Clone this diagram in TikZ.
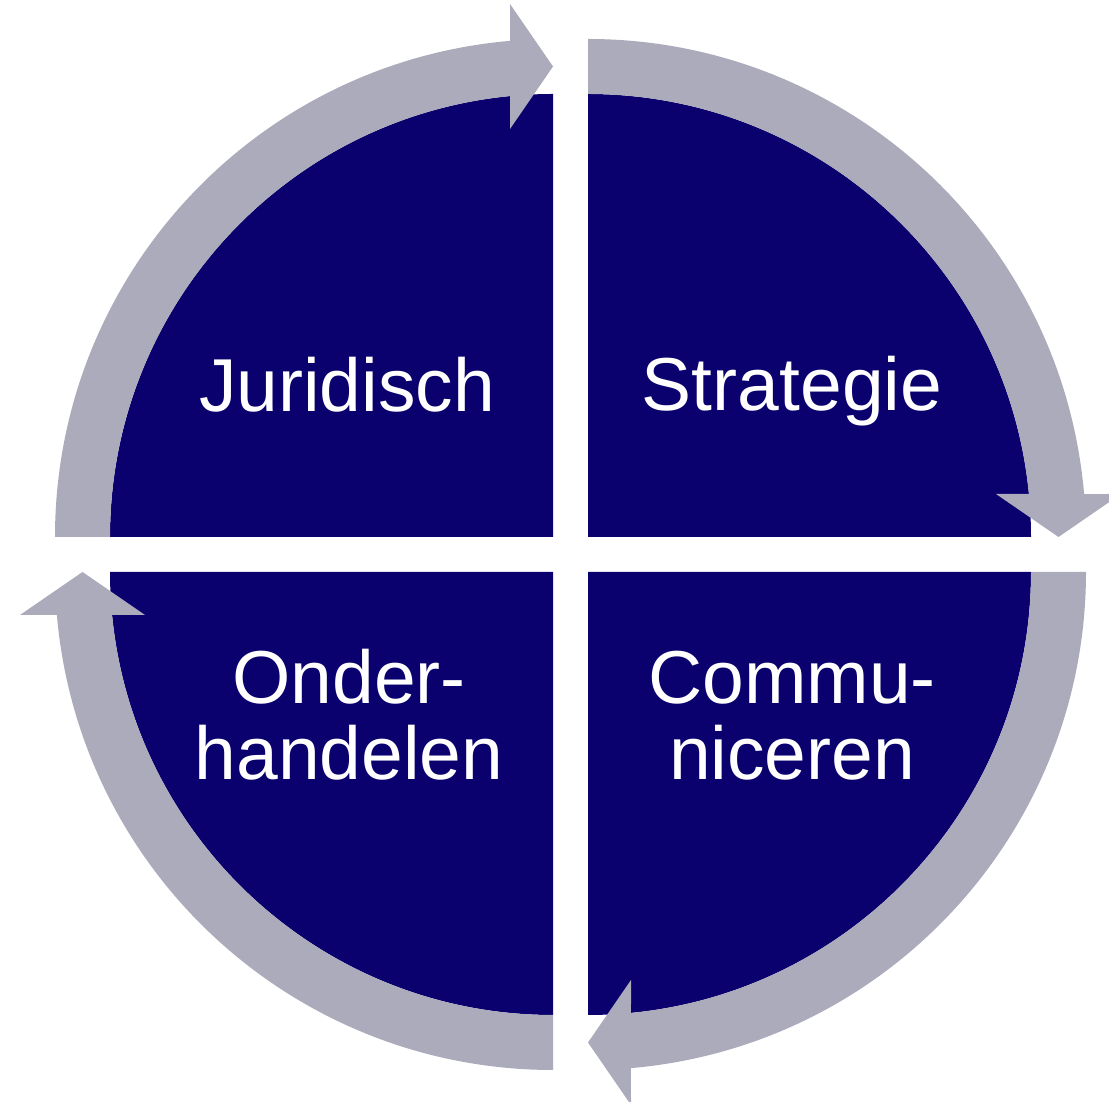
\documentclass[tikz,border=0pt]{standalone}
\usepackage{fontspec}
\setmainfont{Liberation Sans}
\definecolor{quadfill}{RGB}{10,0,110}
\definecolor{ringgray}{RGB}{171,171,187}
\tikzset{
  quad/.style={fill=quadfill},
  cyclearrow/.style={fill=ringgray},
  label/.style={text=white, align=center, anchor=base, inner sep=0pt,
    font=\fontsize{75}{76}\selectfont},
}
% one quarter of the cycle: a curved band with an arrowhead at its end,
% drawn around the origin of the current scope
\newcommand{\quarterarrow}{%
  \fill[cyclearrow] (180:498) arc[start angle=180, end angle=94.95, radius=498]
    -- (-43,533) -- (0,470.5) -- (-43,408)
    -- (95.57:443) arc[start angle=95.57, end angle=180, radius=443] -- cycle;}
\begin{document}
\begin{tikzpicture}[x=1pt, y=1pt]
  \useasboundingbox (0,0) rectangle (1109,1102);
  \clip (0,0) rectangle (1109,1102);

  % the four quarters
  \fill[quad] (553,565) -- ++(-443,0) arc[start angle=180, end angle=90, radius=443] -- cycle;
  \fill[quad] (588,565) -- ++(0,443) arc[start angle=90, end angle=0, radius=443] -- cycle;
  \fill[quad] (588,530) -- ++(443,0) arc[start angle=0, end angle=-90, radius=443] -- cycle;
  \fill[quad] (553,530) -- ++(0,-443) arc[start angle=-90, end angle=-180, radius=443] -- cycle;

  % the clockwise arrows around them
  \begin{scope}[shift={(553,565)}]\quarterarrow\end{scope}
  \begin{scope}[shift={(588,565)}, rotate=-90]\quarterarrow\end{scope}
  \begin{scope}[shift={(588,530)}, rotate=-180]\quarterarrow\end{scope}
  \begin{scope}[shift={(553,530)}, rotate=-270]\quarterarrow\end{scope}

  % labels (a two-line label sits on the baseline of its last line)
  \node[label] (jur) at (347,690) {Juridisch};
  \node[label] (str) at (792,691) {Strategie};
  \node[label] (ond) at (349,322) {Onder-\\handelen};
  \node[label] (com) at (792,322) {Commu-\\niceren};
\end{tikzpicture}
\end{document}
